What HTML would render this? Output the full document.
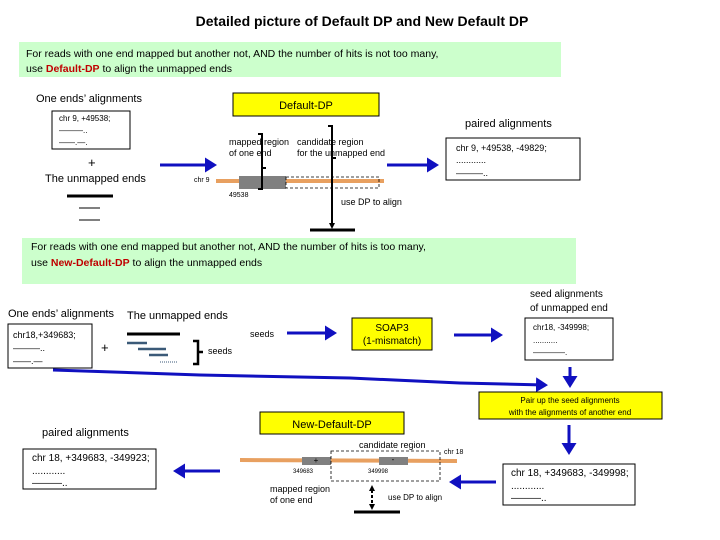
<!DOCTYPE html>
<html><head><meta charset="utf-8"><style>
body{margin:0;background:#fff}
svg{display:block;font-family:"Liberation Sans",sans-serif}
</style></head><body>
<svg width="720" height="540" viewBox="0 0 720 540" xmlns="http://www.w3.org/2000/svg">
<defs>
<marker id="ab" markerWidth="5" markerHeight="5" refX="3" refY="2.5" orient="auto" markerUnits="strokeWidth"><path d="M0,0 L4,2.5 L0,5 z" fill="#1010c0"/></marker>
</defs>
<text x="362" y="26" font-size="14" font-weight="bold" text-anchor="middle">Detailed picture of Default DP and New Default DP</text>

<rect x="19" y="42" width="542" height="35" fill="#ccffcc"/>
<text x="26" y="57" font-size="10.5">For reads with one end mapped but another not, AND the number of hits is not too many,</text>
<text x="26" y="72" font-size="10.5">use <tspan fill="#c00000" font-weight="bold">Default-DP</tspan> to align the unmapped ends</text>

<text x="36" y="102" font-size="11">One ends’ alignments</text>
<rect x="52" y="111" width="78" height="38" fill="#fff" stroke="#000"/>
<text x="59" y="121" font-size="8">chr 9, +49538;</text>
<text x="59" y="133" font-size="8">———..</text>
<text x="59" y="145" font-size="8">——.—.</text>
<text x="88" y="167" font-size="13">+</text>
<text x="45" y="182" font-size="11">The unmapped ends</text>
<line x1="67" y1="196" x2="113" y2="196" stroke="#000" stroke-width="3"/>
<line x1="79" y1="208" x2="100" y2="208" stroke="#000"/>
<line x1="79" y1="220" x2="100" y2="220" stroke="#000"/>
<line x1="160" y1="165" x2="214" y2="165" stroke="#1010c0" stroke-width="3" marker-end="url(#ab)"/>

<rect x="233" y="93" width="146" height="23" fill="#ffff00" stroke="#000"/>
<text x="306" y="109" font-size="11" text-anchor="middle">Default-DP</text>
<text x="229" y="145" font-size="9">mapped region</text>
<text x="229" y="156" font-size="9">of one end</text>
<text x="297" y="145" font-size="9">candidate region</text>
<text x="297" y="156" font-size="9">for the unmapped end</text>
<text x="194" y="182" font-size="7">chr 9</text>
<line x1="216" y1="181" x2="384" y2="181" stroke="#e8a060" stroke-width="4"/>
<rect x="239" y="176" width="47" height="13" fill="#808080"/>
<rect x="286" y="177" width="93" height="11" fill="none" stroke="#000" stroke-dasharray="3,2" stroke-width="0.8"/>
<text x="229" y="197" font-size="7">49538</text>
<path d="M258,134 L262,134 L262,189 L258,189 M262,168 L266,168" fill="none" stroke="#000" stroke-width="2"/>
<path d="M328,126 L332,126 L332,224 M332,158 L336,158" fill="none" stroke="#000" stroke-width="2"/>
<path d="M329,223 L332,229 L335,223 z" fill="#000"/>
<line x1="310" y1="230" x2="355" y2="230" stroke="#000" stroke-width="3"/>
<text x="341" y="205" font-size="9">use DP to align</text>
<line x1="387" y1="165" x2="436" y2="165" stroke="#1010c0" stroke-width="3" marker-end="url(#ab)"/>
<text x="465" y="127" font-size="11">paired alignments</text>
<rect x="446" y="138" width="134" height="42" fill="#fff" stroke="#000"/>
<text x="456" y="151" font-size="9">chr 9, +49538, -49829;</text>
<text x="456" y="163" font-size="9">............</text>
<text x="456" y="176" font-size="9">———..</text>

<rect x="22" y="238" width="554" height="46" fill="#ccffcc"/>
<text x="31" y="250" font-size="10.5">For reads with one end mapped but another not, AND the number of hits is too many,</text>
<text x="31" y="266" font-size="10.5">use <tspan fill="#c00000" font-weight="bold">New-Default-DP</tspan> to align the unmapped ends</text>

<text x="8" y="317" font-size="11">One ends’ alignments</text>
<text x="127" y="319" font-size="11">The unmapped ends</text>
<rect x="8" y="324" width="84" height="44" fill="#fff" stroke="#000"/>
<text x="13" y="338" font-size="9">chr18,+349683;</text>
<text x="13" y="351" font-size="9">———..</text>
<text x="13" y="364" font-size="9">——.—</text>
<text x="101" y="352" font-size="13">+</text>
<line x1="127" y1="334" x2="180" y2="334" stroke="#000" stroke-width="3"/>
<line x1="127" y1="343" x2="147" y2="343" stroke="#3b5a78" stroke-width="2.5"/>
<line x1="138" y1="349" x2="166" y2="349" stroke="#3b5a78" stroke-width="2.5"/>
<line x1="149" y1="355" x2="168" y2="355" stroke="#3b5a78" stroke-width="2.5"/>
<line x1="160" y1="362" x2="178" y2="362" stroke="#3b5a78" stroke-dasharray="1,1"/>
<path d="M193,341 L198,341 L198,364 L193,364 M198,352 L203,352" fill="none" stroke="#000" stroke-width="2.5"/>
<text x="208" y="354" font-size="9">seeds</text>
<text x="250" y="337" font-size="9">seeds</text>
<line x1="287" y1="333" x2="334" y2="333" stroke="#1010c0" stroke-width="3" marker-end="url(#ab)"/>
<rect x="352" y="318" width="80" height="32" fill="#ffff00" stroke="#000"/>
<text x="392" y="331" font-size="10" text-anchor="middle">SOAP3</text>
<text x="392" y="344" font-size="10" text-anchor="middle">(1-mismatch)</text>
<line x1="454" y1="335" x2="500" y2="335" stroke="#1010c0" stroke-width="3" marker-end="url(#ab)"/>
<text x="530" y="297" font-size="10">seed alignments</text>
<text x="530" y="311" font-size="10">of unmapped end</text>
<rect x="525" y="318" width="88" height="42" fill="#fff" stroke="#000"/>
<text x="533" y="330" font-size="8">chr18, -349998;</text>
<text x="533" y="343" font-size="8">...........</text>
<text x="533" y="355" font-size="8">————.</text>
<line x1="570" y1="367" x2="570" y2="385" stroke="#1010c0" stroke-width="3" marker-end="url(#ab)"/>
<polyline points="53,370 200,375 350,378 460,383 545,385" fill="none" stroke="#1010c0" stroke-width="3" marker-end="url(#ab)"/>
<rect x="479" y="392" width="183" height="27" fill="#ffff00" stroke="#000"/>
<text x="570" y="403" font-size="8" text-anchor="middle">Pair up the seed alignments</text>
<text x="570" y="415" font-size="8" text-anchor="middle">with the alignments of another end</text>
<line x1="569" y1="425" x2="569" y2="452" stroke="#1010c0" stroke-width="3" marker-end="url(#ab)"/>
<rect x="503" y="464" width="132" height="41" fill="#fff" stroke="#000"/>
<text x="511" y="476" font-size="10">chr 18, +349683, -349998;</text>
<text x="511" y="489" font-size="10">............</text>
<text x="511" y="501" font-size="10">———..</text>
<line x1="496" y1="482" x2="452" y2="482" stroke="#1010c0" stroke-width="3" marker-end="url(#ab)"/>

<rect x="260" y="412" width="144" height="22" fill="#ffff00" stroke="#000"/>
<text x="332" y="428" font-size="11" text-anchor="middle">New-Default-DP</text>
<text x="359" y="448" font-size="9">candidate region</text>
<text x="444" y="454" font-size="7">chr 18</text>
<line x1="240" y1="460" x2="457" y2="461" stroke="#e8a060" stroke-width="4"/>
<rect x="302" y="457" width="29" height="8" fill="#808080"/>
<rect x="379" y="457" width="29" height="8" fill="#808080"/>
<text x="316" y="463" font-size="8" text-anchor="middle">+</text>
<text x="393" y="462" font-size="8" text-anchor="middle">-</text>
<rect x="331" y="451" width="109" height="30" fill="none" stroke="#000" stroke-dasharray="3,2" stroke-width="0.8"/>
<text x="293" y="473" font-size="6">349683</text>
<text x="368" y="473" font-size="6">349998</text>
<text x="270" y="492" font-size="9">mapped region</text>
<text x="270" y="503" font-size="9">of one end</text>
<line x1="372" y1="490" x2="372" y2="505" stroke="#000" stroke-width="2" stroke-dasharray="3,2"/>
<path d="M369,491 L372,485 L375,491 z M369,504 L372,510 L375,504 z" fill="#000"/>
<line x1="354" y1="512" x2="400" y2="512" stroke="#000" stroke-width="3"/>
<text x="388" y="500" font-size="8">use DP to align</text>
<line x1="220" y1="471" x2="176" y2="471" stroke="#1010c0" stroke-width="3" marker-end="url(#ab)"/>
<text x="42" y="436" font-size="11">paired alignments</text>
<rect x="23" y="449" width="133" height="40" fill="#fff" stroke="#000"/>
<text x="32" y="461" font-size="10">chr 18, +349683, -349923;</text>
<text x="32" y="474" font-size="10">............</text>
<text x="32" y="486" font-size="10">———..</text>
</svg>
</body></html>
